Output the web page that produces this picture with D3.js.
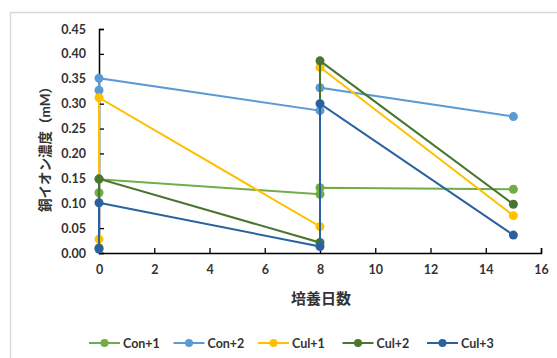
<!DOCTYPE html>
<html><head><meta charset="utf-8">
<script src="https://cdn.jsdelivr.net/npm/d3@7"></script>
<style>body{margin:0;background:#fff;}svg{display:block;}</style>
</head><body>
<svg id="c" width="557" height="358"></svg>
<script>
const seriesNames = ["Con+1","Con+2","Cul+1","Cul+2","Cul+3"];
const seriesColors = ["#70AD47","#5B9BD5","#FFC000","#4A7530","#2A62A0"];
const days = [0,0,8,8,15];
const con1 = [0.121,0.148,0.118,0.131,0.128];
const con2 = [0.327,0.351,0.286,0.332,0.274];
const cul1 = [0.028,0.312,0.053,0.373,0.075];
const cul2 = [0.010,0.149,0.021,0.386,0.098];
const cul3 = [0.008,0.101,0.013,0.300,0.036];
const xTicks = [0,2,4,6,8,10,12,14,16];
const yTicks = [0,0.05,0.10,0.15,0.20,0.25,0.30,0.35,0.40,0.45];
const xLabel = "培養日数";
const yLabel = "銅イオン濃度（mM）";

const values = [con1,con2,cul1,cul2,cul3];
const svg = d3.select("#c");
const font = "Lato, 'Noto Sans CJK JP', sans-serif";

svg.append("rect").attr("x",10.5).attr("y",12.5).attr("width",560).attr("height",360)
  .attr("fill","none").attr("stroke","#d9d9d9").attr("stroke-width",1.5);

const x = d3.scaleLinear().domain([0,16]).range([99,541]);
const y = d3.scaleLinear().domain([0,0.45]).range([253,29]);

const xAxis = svg.append("g").attr("transform","translate(0,253)")
  .call(d3.axisBottom(x).tickValues(xTicks).tickSize(-5).tickPadding(12).tickFormat(d3.format("d")));
const yAxis = svg.append("g").attr("transform","translate(99,0)")
  .call(d3.axisLeft(y).tickValues(yTicks).tickSize(-5).tickPadding(13).tickFormat(d3.format(".2f")));
[xAxis,yAxis].forEach(a=>{
  a.select(".domain").attr("stroke","#000").attr("stroke-width",1.5);
  a.selectAll(".tick line").attr("stroke","#000").attr("stroke-width",1.3);
  a.selectAll(".tick text").attr("fill","#333").attr("font-family",font)
    .attr("font-weight","bold").attr("font-size",12.5);
});

const line = d3.line().x((d,i)=>x(days[i])).y(d=>y(d));
values.forEach((vals,si)=>{
  const g = svg.append("g");
  g.append("path").datum(vals).attr("d",line).attr("fill","none")
    .attr("stroke",seriesColors[si]).attr("stroke-width",2);
  g.selectAll("circle").data(vals).join("circle")
    .attr("cx",(d,i)=>x(days[i])).attr("cy",d=>y(d)).attr("r",4.5)
    .attr("fill",seriesColors[si]);
});

svg.append("text").attr("x",321).attr("y",304).attr("text-anchor","middle")
  .attr("font-family",font).attr("font-size",15).attr("font-weight","bold").attr("fill","#333").text(xLabel);
svg.append("text").attr("transform","translate(50,146) rotate(-90)").attr("text-anchor","middle")
  .attr("font-family",font).attr("font-size",13.5).attr("font-weight","bold").attr("fill","#333").text(yLabel);

const leg = svg.append("g");
seriesNames.forEach((n,i)=>{
  const lx = 89 + i*84.5;
  const g = leg.append("g").attr("transform",`translate(${lx},343)`);
  g.append("line").attr("x1",0).attr("x2",31).attr("stroke",seriesColors[i]).attr("stroke-width",2);
  g.append("circle").attr("cx",15.5).attr("r",4).attr("fill",seriesColors[i]);
  g.append("text").attr("x",34).attr("y",4.5).attr("font-family",font).attr("font-size",12.5)
    .attr("font-weight","bold").attr("fill","#333").text(n);
});
</script>
</body></html>
